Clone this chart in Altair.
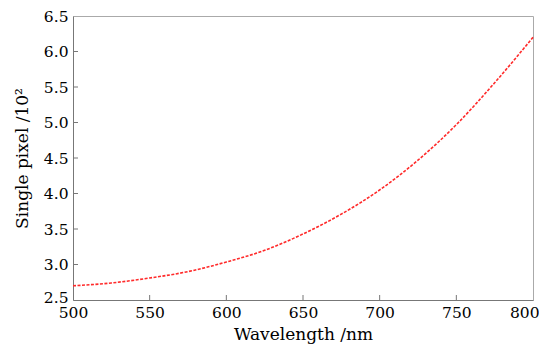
import altair as alt
import pandas as pd

# Data
wavelength = [500, 525, 550, 575, 600, 625, 650, 675, 700, 725, 750, 775, 800]
pixel = [2.70, 2.74, 2.81, 2.90, 3.035, 3.20, 3.43, 3.71, 4.05, 4.47, 4.97, 5.56, 6.20]
x_ticks = [500, 550, 600, 650, 700, 750, 800]
y_ticks = [2.5, 3.0, 3.5, 4.0, 4.5, 5.0, 5.5, 6.0, 6.5]

W, H = 460, 284
FONT = "DejaVu Serif"

df = pd.DataFrame({"wavelength": wavelength, "pixel": pixel})
xs = alt.Scale(domain=[500, 800], nice=False, zero=False)
ys = alt.Scale(domain=[2.5, 6.5], nice=False, zero=False)

x_axis = alt.Axis(values=x_ticks, format="d", title="Wavelength /nm",
                  ticks=False, grid=False, labelPadding=5, titlePadding=6,
                  labelFlush=False, labelOverlap=False,
                  labelAlign={"condition": {"test": "datum.value == 800", "value": "right"},
                              "value": "center"},
                  labelOffset={"condition": {"test": "datum.value == 800", "value": 6},
                               "value": 0})
y_axis = alt.Axis(values=y_ticks, format=".1f", title="Single pixel /10²",
                  ticks=False, grid=False, labelPadding=5, titlePadding=12,
                  labelFlush=False, labelOverlap=False,
                  labelOffset={"condition": {"test": "datum.value == 2.5", "value": -3},
                               "value": 0})

line = alt.Chart(df).mark_line(
    color="#ff2a2a", strokeWidth=1.6, strokeDash=[3, 1.5], interpolate="monotone"
).encode(
    x=alt.X("wavelength:Q", scale=xs, axis=x_axis),
    y=alt.Y("pixel:Q", scale=ys, axis=y_axis),
)

xt = alt.Chart(pd.DataFrame({"wavelength": x_ticks[1:-1]})).mark_rule(color="#777", strokeWidth=1).encode(
    x=alt.X("wavelength:Q", scale=xs, axis=x_axis),
    y=alt.value(H), y2=alt.value(H - 5),
)
yt = alt.Chart(pd.DataFrame({"pixel": y_ticks[1:-1]})).mark_rule(color="#777", strokeWidth=1).encode(
    y=alt.Y("pixel:Q", scale=ys, axis=y_axis),
    x=alt.value(0), x2=alt.value(5),
)

chart = alt.layer(line, xt, yt).properties(
    width=W, height=H,
    autosize=alt.AutoSizeParams(type="none"),
    padding={"left": 65, "top": 8, "right": 6, "bottom": 46},
).configure_view(
    stroke="#aaaaaa", strokeWidth=1
).configure_axis(
    domainColor="#777777", domainWidth=1,
    labelFont=FONT, labelFontSize=15.5, labelColor="#000",
    titleFont=FONT, titleFontSize=17, titleFontWeight="normal", titleColor="#000",
)

chart.save("out.html", embed_options={"renderer": "svg", "actions": False})
